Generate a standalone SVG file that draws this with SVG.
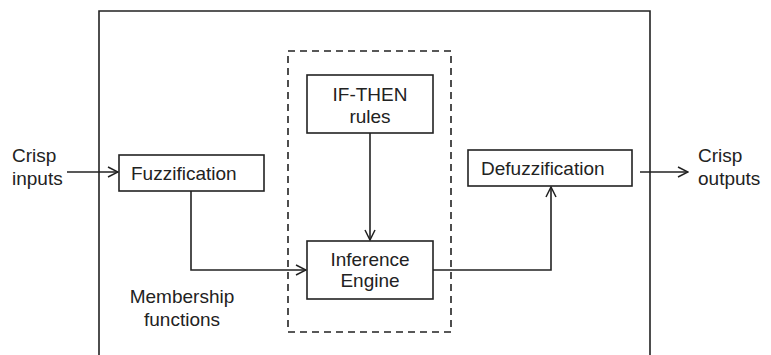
<svg xmlns="http://www.w3.org/2000/svg" width="771" height="355" viewBox="0 0 771 355">
<defs>
<style>
text{font-family:"Liberation Sans",Arial,sans-serif;font-size:19px;fill:#222}
.box{fill:#fff;stroke:#222;stroke-width:1.6}
.ln{fill:none;stroke:#222;stroke-width:1.6}
.dash{fill:none;stroke:#222;stroke-width:1.6;stroke-dasharray:7,5}
</style>
<marker id="arr" viewBox="0 0 12 12" refX="11" refY="6" markerWidth="12" markerHeight="12" markerUnits="userSpaceOnUse" orient="auto">
<path d="M1,1 L11,6 L1,11" fill="none" stroke="#222" stroke-width="1.5"/>
</marker>
</defs>
<rect width="771" height="355" fill="#fff"/>
<g id="system">
<path class="ln" d="M99,355 V11 H650 V355"/>
</g>
<g id="inference-group">
<rect class="dash" x="288" y="51" width="163" height="281"/>
</g>
<g id="connectors">
<path class="ln" d="M67,172 H118" marker-end="url(#arr)"/>
<path class="ln" d="M640,172 H688" marker-end="url(#arr)"/>
<path class="ln" d="M191,191 V270 H306" marker-end="url(#arr)"/>
<path class="ln" d="M370,133 V240" marker-end="url(#arr)"/>
<path class="ln" d="M433,270 H551 V187" marker-end="url(#arr)"/>
</g>
<g id="crisp-inputs">
<text x="12" y="162">Crisp</text>
<text x="12" y="185">inputs</text>
</g>
<g id="crisp-outputs">
<text x="698" y="162">Crisp</text>
<text x="698" y="185">outputs</text>
</g>
<g id="fuzzification">
<rect class="box" x="119" y="155" width="145" height="36"/>
<text x="131" y="180">Fuzzification</text>
</g>
<g id="if-then">
<rect class="box" x="307" y="75" width="126" height="58"/>
<text x="370" y="101" text-anchor="middle">IF-THEN</text>
<text x="370" y="123" text-anchor="middle">rules</text>
</g>
<g id="inference-engine">
<rect class="box" x="307" y="241" width="126" height="58"/>
<text x="370" y="266" text-anchor="middle">Inference</text>
<text x="370" y="287" text-anchor="middle">Engine</text>
</g>
<g id="defuzzification">
<rect class="box" x="468" y="150" width="164" height="36"/>
<text x="481" y="175">Defuzzification</text>
</g>
<g id="membership">
<text x="182" y="303" text-anchor="middle">Membership</text>
<text x="182" y="326" text-anchor="middle">functions</text>
</g>
</svg>
